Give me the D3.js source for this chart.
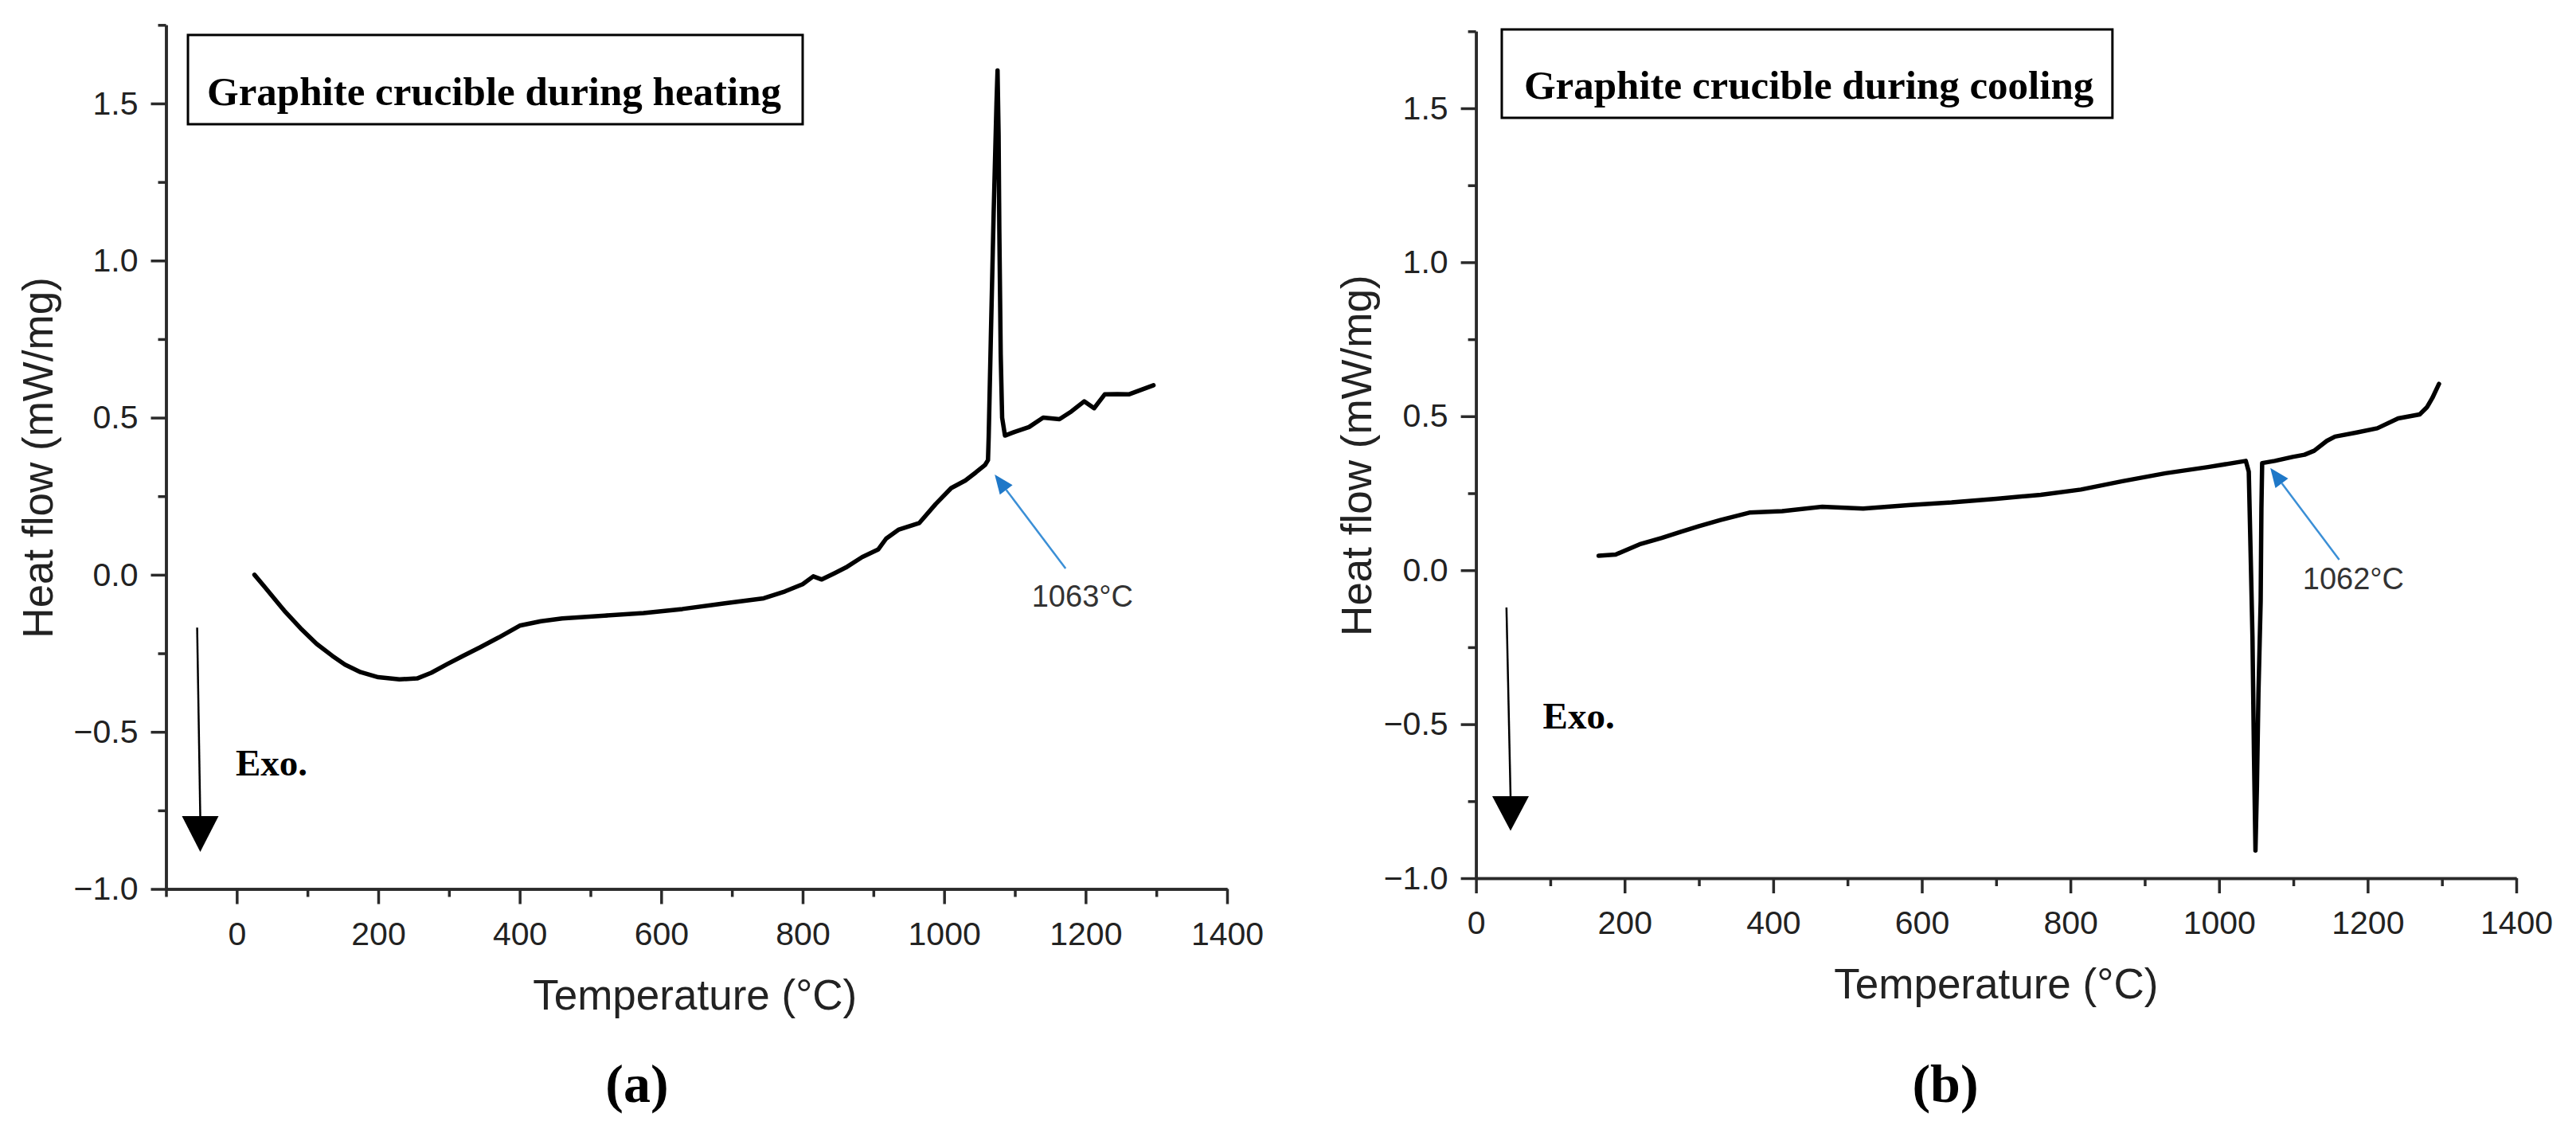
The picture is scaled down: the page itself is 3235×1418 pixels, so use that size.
<!DOCTYPE html>
<html>
<head>
<meta charset="utf-8">
<script src="https://cdn.jsdelivr.net/npm/d3@7"></script>
<style>
  body { margin: 0; background: #fff; }
  svg { display: block; }
</style>
</head>
<body>
<svg id="chart" width="3235" height="1418"></svg>
<script>
// heating run, panel (a)
const heatTemp = [25, 40, 67, 90, 113, 135, 153, 175, 200, 230, 255, 275, 298, 320, 344, 370, 400, 430, 460, 520, 575, 630, 690, 745, 775, 800, 815, 827, 845, 861, 884, 907, 918, 936, 965, 988, 1010, 1030, 1045, 1058, 1062, 1063, 1066, 1070, 1074, 1075.5, 1077, 1078, 1080, 1082, 1086, 1100, 1120, 1140, 1163, 1180, 1198, 1212, 1227, 1245, 1261, 1280, 1296];
const heatFlow = [0.0, -0.04, -0.114, -0.17, -0.22, -0.258, -0.286, -0.31, -0.326, -0.333, -0.33, -0.312, -0.284, -0.258, -0.231, -0.2, -0.162, -0.148, -0.139, -0.13, -0.122, -0.109, -0.091, -0.075, -0.053, -0.03, -0.005, -0.015, 0.005, 0.023, 0.056, 0.081, 0.115, 0.144, 0.165, 0.225, 0.276, 0.3, 0.326, 0.35, 0.365, 0.44, 0.75, 1.15, 1.5, 1.605, 1.4, 1.1, 0.7, 0.5, 0.443, 0.455, 0.47, 0.5, 0.495, 0.52, 0.552, 0.53, 0.574, 0.575, 0.574, 0.59, 0.603];

// cooling run, panel (b)
const coolTemp = [165, 188, 220, 250, 275, 300, 329, 368, 412, 466, 521, 585, 640, 700, 760, 814, 870, 928, 985, 1036, 1040, 1043, 1045, 1047, 1049, 1051, 1053, 1056, 1057, 1058, 1075, 1099, 1115, 1128, 1145, 1156, 1185, 1213, 1241, 1270, 1280, 1287, 1296];
const coolFlow = [0.047, 0.051, 0.084, 0.105, 0.124, 0.143, 0.163, 0.187, 0.192, 0.206, 0.2, 0.212, 0.22, 0.232, 0.245, 0.262, 0.289, 0.315, 0.335, 0.355, 0.32, 0.0, -0.22, -0.6, -0.91, -0.7, -0.4, -0.1, 0.2, 0.348, 0.355, 0.368, 0.375, 0.388, 0.42, 0.434, 0.447, 0.461, 0.493, 0.506, 0.53, 0.559, 0.605];

const yMajor = [-1.0, -0.5, 0.0, 0.5, 1.0, 1.5];
const yMinor = [-0.75, -0.25, 0.25, 0.75, 1.25, 1.75];
const xMajor = [0, 200, 400, 600, 800, 1000, 1200, 1400];
const xMinorA = [-100, 100, 300, 500, 700, 900, 1100, 1300];
const xMinorB = [100, 300, 500, 700, 900, 1100, 1300];

const panels = [
  {
    temp: heatTemp, flow: heatFlow,
    xDomain: [-100, 1400], xRange: [208.5, 1541],
    yRange: [1116.5, 31.3], xMinor: xMinorA,
    title: "Graphite crucible during heating",
    box: [-69, 800, 1.718, 1.434], titleAt: [-42, 1.495],
    exo: { x0: -56, y0: -0.168, x1: -51.6, yBase: -0.768, y1: -0.882, label: [-1.5, -0.64] },
    note: { label: "1063°C", from: [1171.7, 0.02], to: [1071.5, 0.319], at: [1195.5, -0.102] },
    yTitleX: 66, titleShift: -2, tag: "(a)", tagX: 800
  },
  {
    temp: coolTemp, flow: coolFlow,
    xDomain: [0, 1400], xRange: [1853.6, 3160],
    yRange: [1103, 39.3], xMinor: xMinorB,
    title: "Graphite crucible during cooling",
    box: [34.7, 856.5, 1.756, 1.469], titleAt: [64.6, 1.531],
    exo: { x0: 41, y0: -0.121, x1: 46.5, yBase: -0.734, y1: -0.846, label: [90, -0.514] },
    note: { label: "1062°C", from: [1161.7, 0.034], to: [1069, 0.332], at: [1180.7, -0.0615] },
    yTitleX: 1722, titleShift: 0, tag: "(b)", tagX: 2443
  }
];

const svg = d3.select("#chart");
svg.append("rect").attr("width", 3235).attr("height", 1418).attr("fill", "#fff");

const sansFont = "'Liberation Sans', Arial, sans-serif";
const serifFont = "'Liberation Serif', 'Times New Roman', serif";
const axisColor = "#2a2a2a";

panels.forEach(p => {
  const x = d3.scaleLinear().domain(p.xDomain).range(p.xRange);
  const y = d3.scaleLinear().domain([-1, 1.75]).range(p.yRange);
  const g = svg.append("g");

  // minor ticks
  g.append("g")
    .attr("transform", `translate(0,${y(-1)})`)
    .call(d3.axisBottom(x).tickValues(p.xMinor).tickSize(10).tickSizeOuter(0).tickFormat(""));
  g.append("g")
    .attr("transform", `translate(${x(p.xDomain[0])},0)`)
    .call(d3.axisLeft(y).tickValues(yMinor).tickSize(10).tickSizeOuter(0).tickFormat(""));

  // major ticks + labels
  g.append("g")
    .attr("transform", `translate(0,${y(-1)})`)
    .call(d3.axisBottom(x).tickValues(xMajor).tickSize(19).tickSizeOuter(0).tickPadding(22).tickFormat(d3.format("d")));
  g.append("g")
    .attr("transform", `translate(${x(p.xDomain[0])},0)`)
    .call(d3.axisLeft(y).tickValues(yMajor).tickSize(19).tickSizeOuter(0).tickPadding(16)
      .tickFormat(d => d3.format(".1f")(d).replace("-", "\u2212")));

  g.selectAll(".domain").attr("stroke", axisColor).attr("stroke-width", 3.5);
  g.selectAll(".tick line").attr("stroke", axisColor).attr("stroke-width", 3.5);
  g.selectAll(".tick text")
    .attr("font-family", sansFont).attr("font-size", 41).attr("fill", "#222");

  // axis titles
  g.append("text")
    .attr("x", (p.xRange[0] + p.xRange[1]) / 2 + p.titleShift)
    .attr("y", y(-1) + 151)
    .attr("text-anchor", "middle")
    .attr("font-family", sansFont).attr("font-size", 53).attr("fill", "#222")
    .text("Temperature (°C)");
  g.append("text")
    .attr("transform", `translate(${p.yTitleX},${(y(-1) + y(1.75)) / 2 + 1}) rotate(-90)`)
    .attr("text-anchor", "middle")
    .attr("font-family", sansFont).attr("font-size", 53).attr("fill", "#222")
    .text("Heat flow (mW/mg)");

  // title box
  g.append("rect")
    .attr("x", x(p.box[0])).attr("y", y(p.box[2]))
    .attr("width", x(p.box[1]) - x(p.box[0]))
    .attr("height", y(p.box[3]) - y(p.box[2]))
    .attr("fill", "none").attr("stroke", "#000").attr("stroke-width", 3);
  g.append("text")
    .attr("x", x(p.titleAt[0])).attr("y", y(p.titleAt[1]))
    .attr("font-family", serifFont).attr("font-weight", "bold").attr("font-size", 51)
    .attr("fill", "#000")
    .text(p.title);

  // Exo. arrow
  const e = p.exo;
  g.append("line")
    .attr("x1", x(e.x0)).attr("y1", y(e.y0))
    .attr("x2", x(e.x1)).attr("y2", y(e.yBase))
    .attr("stroke", "#000").attr("stroke-width", 2.5);
  g.append("path")
    .attr("d", `M${x(e.x1) - 23},${y(e.yBase)}L${x(e.x1) + 23},${y(e.yBase)}L${x(e.x1)},${y(e.y1)}Z`)
    .attr("fill", "#000");
  g.append("text")
    .attr("x", x(e.label[0])).attr("y", y(e.label[1]))
    .attr("font-family", serifFont).attr("font-weight", "bold").attr("font-size", 47)
    .text("Exo.");

  // curve
  const pts = p.temp.map((t, i) => [t, p.flow[i]]);
  g.append("path")
    .datum(pts)
    .attr("fill", "none")
    .attr("stroke", "#000")
    .attr("stroke-width", 5.5)
    .attr("stroke-linejoin", "round")
    .attr("stroke-linecap", "round")
    .attr("d", d3.line().x(d => x(d[0])).y(d => y(d[1])));

  // blue annotation
  const n = p.note;
  const fx = x(n.from[0]), fy = y(n.from[1]), tx = x(n.to[0]), ty = y(n.to[1]);
  const ang = Math.atan2(ty - fy, tx - fx);
  const hl = 24, hw = 10;
  const bx = tx - hl * Math.cos(ang), by = ty - hl * Math.sin(ang);
  g.append("line")
    .attr("x1", fx).attr("y1", fy).attr("x2", bx).attr("y2", by)
    .attr("stroke", "#3b8fd6").attr("stroke-width", 2.5);
  g.append("path")
    .attr("d", `M${tx},${ty}L${bx + hw * Math.sin(ang)},${by - hw * Math.cos(ang)}L${bx - hw * Math.sin(ang)},${by + hw * Math.cos(ang)}Z`)
    .attr("fill", "#1f78c8");
  g.append("text")
    .attr("x", x(n.at[0])).attr("y", y(n.at[1]))
    .attr("text-anchor", "middle")
    .attr("font-family", sansFont).attr("font-size", 38).attr("fill", "#333")
    .text(n.label);

  // panel tag
  svg.append("text")
    .attr("x", p.tagX).attr("y", 1384)
    .attr("text-anchor", "middle")
    .attr("font-family", serifFont).attr("font-weight", "bold").attr("font-size", 68)
    .text(p.tag);
});
</script>
</body>
</html>
